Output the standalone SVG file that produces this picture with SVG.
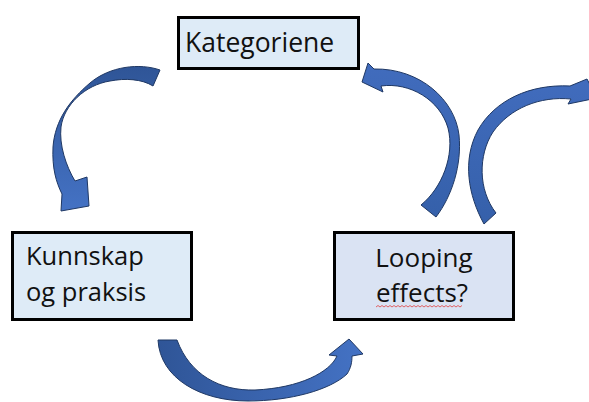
<svg xmlns="http://www.w3.org/2000/svg" width="589" height="402" viewBox="0 0 589 402">
<style>
.box{stroke:#000;stroke-width:3}
.lbl{font-family:"Open Sans","Liberation Sans",sans-serif;fill:#111}
.arrow{stroke:#1F3864;stroke-width:1;stroke-linejoin:round}
</style>
<defs>
<linearGradient id="g1" x1="0" y1="0" x2="0" y2="1"><stop offset="0" stop-color="#2F5597"/><stop offset="1" stop-color="#4472C4"/></linearGradient>
<linearGradient id="g2" x1="0" y1="0" x2="1" y2="0"><stop offset="0" stop-color="#2F5597"/><stop offset="1" stop-color="#4472C4"/></linearGradient>
<linearGradient id="g3" x1="0" y1="1" x2="0" y2="0"><stop offset="0" stop-color="#3560AA"/><stop offset="1" stop-color="#416CBD"/></linearGradient>
</defs>
<rect width="589" height="402" fill="#fff"/>
<g id="connectors">
<path class="arrow" fill="url(#g1)" d="M160,70 C140,63 110,66 90,83 C70,100 55,120 53,147 C52,168 56,182 62,194 L61,211 L89,206 L87,177 L75,181 C66,166 59,145 61,127 C64,105 85,85 110,81 C125,78 142,79 153,86 Z"/>
<path class="arrow" fill="url(#g2)" d="M158,340 C160,378 200,401 248,401 C290,401 330,390 347,374 C351,368 352,362 352,356 L363,354 L349,339 L329,355 L337,356 C330,372 300,388 255,390 C220,391 190,375 177,340 Z"/>
<path class="arrow" fill="url(#g3)" d="M436,217 C452,196 462,165 459,135 C455,100 420,68 374,69 L368,63 L362,82 L383,92 L381,86 C410,82 440,100 448,128 C455,155 442,188 421,205 Z"/>
<path class="arrow" fill="url(#g3)" d="M484,224 C468,195 462,160 478,130 C495,100 530,84 570,86 L587,79 L597,98 L568,104 L571,99 C540,96 510,108 493,132 C478,155 478,190 496,213 Z"/>
</g>
<g id="kategoriene">
<rect class="box" x="178.5" y="17.5" width="180" height="51" fill="#DEEBF7"/>
<text class="lbl" x="185" y="52" font-size="26.5">Kategoriene</text>
</g>
<g id="kunnskap">
<rect class="box" x="12.5" y="232.5" width="179" height="87" fill="#DEEBF7"/>
<text class="lbl" x="26" y="265" font-size="25.5">Kunnskap</text>
<text class="lbl" x="26" y="301" font-size="25.5">og praksis</text>
</g>
<g id="looping">
<rect class="box" x="334.5" y="232.5" width="179" height="87" fill="#DAE3F3"/>
<text class="lbl" x="424" y="267" font-size="26" text-anchor="middle">Looping</text>
<text class="lbl" x="422" y="302" font-size="26" text-anchor="middle">effects?</text>
<path d="M376,307 l2,-1.5 l2,1.5 l2,-1.5 l2,1.5 l2,-1.5 l2,1.5 l2,-1.5 l2,1.5 l2,-1.5 l2,1.5 l2,-1.5 l2,1.5 l2,-1.5 l2,1.5 l2,-1.5 l2,1.5 l2,-1.5 l2,1.5 l2,-1.5 l2,1.5 l2,-1.5 l2,1.5 l2,-1.5 l2,1.5 l2,-1.5 l2,1.5 l2,-1.5 l2,1.5 l2,-1.5 l2,1.5 l2,-1.5 l2,1.5 l2,-1.5 l2,1.5 l2,-1.5 l2,1.5 l2,-1.5 l2,1.5 l2,-1.5 l2,1.5 l2,-1.5 l2,1.5 l2,-1.5" fill="none" stroke="#E04040" stroke-width="0.8"/>
</g>
</svg>
